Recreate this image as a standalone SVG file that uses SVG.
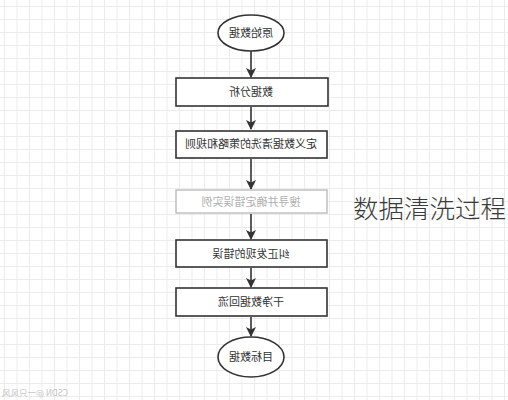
<svg xmlns="http://www.w3.org/2000/svg" width="508" height="400" viewBox="0 0 508 400">
<defs>
<pattern id="grid" x="4" y="6" width="12.5" height="13" patternUnits="userSpaceOnUse">
<path d="M0 0.5H12.5M0.5 0V13" fill="none" stroke="#ececec" stroke-width="1"/>
</pattern>
<marker id="arr" markerWidth="10" markerHeight="12" refX="9" refY="5" orient="auto" markerUnits="userSpaceOnUse" viewBox="0 0 10 10">
<path d="M0 0L10 5L0 10L2.5 5Z" fill="#333"/>
</marker>
<style>
.box{fill:#fff;stroke:#333;stroke-width:1.6}
.gbox{fill:#fff;stroke:#bdbdbd;stroke-width:1.4}
.t{font-family:"Noto Sans CJK SC","Noto Sans",sans-serif;font-size:11px;fill:#333;text-anchor:middle}
.gt{fill:#b0b0b0}
.c{fill:none;stroke:#333;stroke-width:1.6}
</style>
</defs>
<rect width="508" height="400" fill="#fff"/>
<rect width="508" height="400" fill="url(#grid)"/>
<g id="connectors">
<path class="c" d="M251 51V77" marker-end="url(#arr)"/>
<path class="c" d="M251 107V129" marker-end="url(#arr)"/>
<path class="c" d="M251 159V189" marker-end="url(#arr)"/>
<path class="c" d="M251 214V239" marker-end="url(#arr)" stroke="#777"/>
<path class="c" d="M251 268V287" marker-end="url(#arr)"/>
<path class="c" d="M251 317V336" marker-end="url(#arr)"/>
</g>
<g id="n1">
<ellipse class="box" cx="251" cy="33" rx="33" ry="18"/>
<text class="t" x="251" y="37" transform="matrix(-1 0 0 1 502 0)">原始数据</text>
</g>
<g id="n2">
<rect class="box" x="176" y="78" width="152" height="28"/>
<text class="t" x="251" y="96" transform="matrix(-1 0 0 1 502 0)">数据分析</text>
</g>
<g id="n3">
<rect class="box" x="176" y="131" width="151" height="27"/>
<text class="t" x="251" y="148" transform="matrix(-1 0 0 1 502 0)">定义数据清洗的策略和规则</text>
</g>
<g id="n4">
<rect class="gbox" x="176" y="190" width="151" height="23"/>
<text class="t gt" x="251" y="205.5" transform="matrix(-1 0 0 1 502 0)">搜寻并确定错误实例</text>
</g>
<g id="n5">
<rect class="box" x="176" y="240" width="151" height="27"/>
<text class="t" x="251" y="257.5" transform="matrix(-1 0 0 1 502 0)">纠正发现的错误</text>
</g>
<g id="n6">
<rect class="box" x="176" y="288" width="151" height="28"/>
<text class="t" x="251" y="306" transform="matrix(-1 0 0 1 502 0)">干净数据回流</text>
</g>
<g id="n7">
<ellipse class="box" cx="251" cy="357" rx="33" ry="20"/>
<text class="t" x="251" y="361" transform="matrix(-1 0 0 1 502 0)">目标数据</text>
</g>
<text x="353" y="218" font-family="Noto Sans CJK SC, Noto Sans, sans-serif" font-size="25.5" font-weight="300" fill="#3a3a3a">数据清洗过程</text>
<text x="35" y="396" font-family="Noto Sans CJK SC, Noto Sans, sans-serif" font-size="8.5" fill="#c4c4c4" text-anchor="middle" transform="matrix(-1 0 0 1 70 0)">CSDN @一只风风</text>
</svg>
